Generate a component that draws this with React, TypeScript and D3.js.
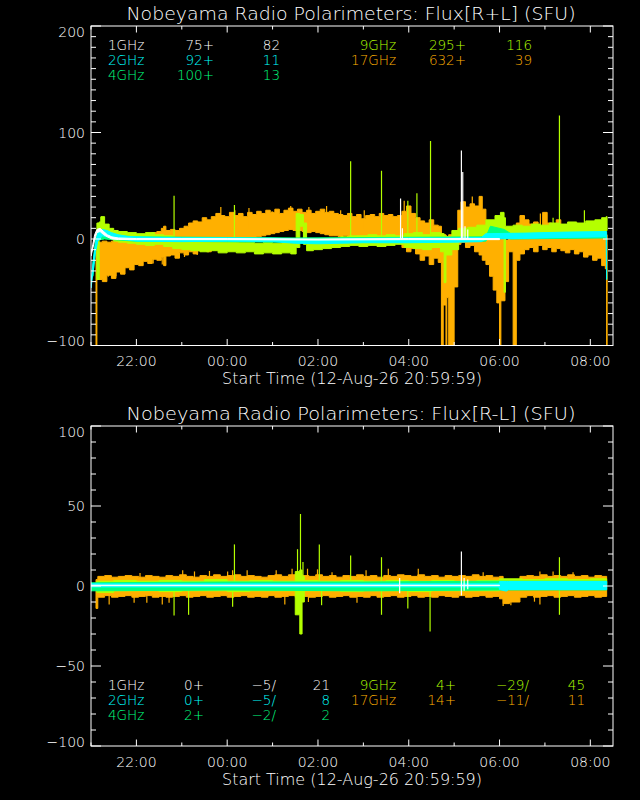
import { useEffect, useRef } from 'react'
import * as d3 from 'd3'

// time axis: hours after the start of the record
const START = new Date(2026, 7, 12, 20, 59, 59)
const SPAN_HOURS = 11.5

const COLORS: Record<string, string> = {
  '1GHz': '#ffffff',
  '2GHz': '#00ffff',
  '4GHz': '#00ff80',
  '9GHz': '#b4ff00',
  '17GHz': '#ffb000',
}

// ---------- Flux[R+L]  bands as [hour, low, high] ----------
const TOP_17GHZ: [number, number, number][] = [
  [0.11, -100, -3], [0.13, -38, -3], [0.25, -40, -2], [0.35, -34, -3], [0.45, -37, -2], [0.55, -31, -1],
  [0.65, -33, 0], [0.75, -27, 0], [0.85, -29, 1], [0.95, -24, 2], [1.05, -25, 3], [1.15, -21, 4],
  [1.25, -23, 5], [1.35, -19, 6], [1.45, -20, 7], [1.55, -17, 10], [1.6, -25, 12], [1.65, -16, 8],
  [1.75, -15, 9], [1.85, -18, 8], [1.95, -13, 10], [2.05, -15, 12], [2.15, -12, 15], [2.25, -14, 17],
  [2.35, -11, 16], [2.45, -10, 20], [2.55, -12, 18], [2.65, -9, 21], [2.75, -7, 24], [2.85, -8, 22],
  [2.95, -5, 21], [3.05, -4, 25], [3.15, -3, 22], [3.25, -2, 24], [3.35, -1, 21], [3.45, 0, 25],
  [3.55, 1, 23], [3.65, 2, 26], [3.75, 3, 24], [3.85, 4, 27], [3.95, 5, 25], [4.05, 6, 28],
  [4.15, 7, 24], [4.25, 8, 27], [4.35, 9, 29], [4.45, 8, 26], [4.55, 8, 28], [4.65, 7, 25],
  [4.75, 6, 27], [4.85, 7, 24], [4.95, 6, 26], [5.05, 5, 28], [5.15, 4, 25], [5.25, 3, 26],
  [5.35, 3, 24], [5.45, 2, 23], [5.55, 3, 22], [5.65, 2, 24], [5.75, 3, 21], [5.85, 2, 23],
  [5.95, 1, 19], [6.05, 2, 22], [6.15, 3, 23], [6.25, 1, 21], [6.35, 2, 24], [6.45, 2, 22],
  [6.55, 1, 23], [6.65, 0, 21], [6.75, -2, 22], [6.85, -8, 26], [6.95, -12, 31], [7.05, -9, 24],
  [7.15, -14, 20], [7.25, -20, 17], [7.35, -16, 15], [7.45, -24, 18], [7.55, -18, 13], [7.65, -22, 12],
  [7.72, -100, 5], [7.76, -62, 4], [7.82, -100, 3], [7.84, -55, 2], [7.88, -100, 4], [7.97, -100, 3],
  [8.0, -45, 6], [8.08, -5, 27], [8.15, -3, 35], [8.25, -8, 30], [8.35, -6, 33], [8.45, -12, 31],
  [8.55, -15, 40], [8.62, -20, 28], [8.7, -24, 15], [8.78, -35, 5], [8.86, -48, 3], [8.94, -60, 2],
  [9.0, -100, 1], [9.03, -58, 0], [9.12, -40, -1], [9.2, -12, 2], [9.3, -100, 5], [9.37, -20, 15],
  [9.45, -14, 22], [9.55, -10, 18], [9.65, -8, 14], [9.75, -12, 16], [9.85, -6, 12], [9.95, -10, 25],
  [10.05, -8, 15], [10.15, -12, 13], [10.25, -9, 18], [10.35, -11, 12], [10.45, -13, 11], [10.55, -10, 14],
  [10.65, -14, 10], [10.75, -12, 9], [10.85, -17, 8], [10.95, -15, 7], [11.05, -20, 6], [11.15, -18, 7],
  [11.25, -25, 5], [11.33, -28, 4], [11.36, -100, 4], [11.37, -100, 4],
]

const TOP_9GHZ: [number, number, number][] = [
  [0.13, -38, 15], [0.18, 0, 16], [0.22, 5, 21], [0.3, 2, 14], [0.4, 0, 10], [0.5, -2, 8],
  [0.6, -3, 7], [0.8, -4, 6], [1.0, -5, 5], [1.2, -6, 6], [1.4, -5, 4], [1.6, -7, 3],
  [1.8, -9, 1], [2.0, -10, 0], [2.2, -11, -1], [2.4, -12, -2], [2.6, -11, -3], [2.8, -13, -3],
  [3.0, -12, -2], [3.2, -13, -3], [3.4, -12, -3], [3.6, -14, -4], [3.8, -13, -3], [4.0, -14, -4],
  [4.2, -13, -3], [4.4, -14, -4], [4.52, -8, 24], [4.6, 12, 23], [4.68, -5, 15], [4.75, -11, -2],
  [4.9, -10, -3], [5.1, -9, -2], [5.3, -8, -1], [5.5, -7, 2], [5.7, -6, 3], [5.9, -7, 3],
  [6.1, -6, 4], [6.3, -7, 3], [6.5, -6, 4], [6.7, -5, 3], [6.9, -8, 5], [7.1, -9, 6],
  [7.3, -10, 4], [7.5, -8, 6], [7.7, -12, 5], [7.78, -41, 3], [7.82, -15, 2], [7.95, -10, 8],
  [8.1, -2, 10], [8.3, 0, 11], [8.5, -1, 13], [8.7, 1, 18], [8.9, 2, 22], [9.02, 3, 25],
  [9.1, -50, 20], [9.13, 1, 12], [9.3, 2, 13], [9.5, 3, 12], [9.7, 3, 14], [9.9, 4, 13],
  [10.1, 4, 15], [10.3, 5, 14], [10.5, 5, 16], [10.7, 6, 15], [10.9, 6, 17], [11.1, 7, 18],
  [11.25, 7, 20], [11.35, 8, 21], [11.37, 8, 21],
]

const TOP_4GHZ: [number, number, number][] = [
  [0.04, -35, -25], [0.1, -10, 0], [0.15, -1, 5], [0.3, 0, 5], [0.6, -1, 3], [1.0, -2, 2],
  [4.5, -3, 1], [8.7, -2, 2], [8.8, 3, 12], [9.1, 2, 9], [9.25, 0, 5], [11.35, 1, 6],
]

const TOP_2GHZ: [number, number, number][] = [
  [0.0, -46, -40], [0.05, -30, -20], [0.1, -12, -4], [0.15, -2, 6], [0.25, 3, 9], [0.35, 2, 8],
  [0.45, 1, 6], [0.6, 0, 4], [0.8, -1, 2.5], [1.0, -2, 2], [2.0, -2.5, 1.2], [3.0, -2, 1.2],
  [4.0, -2.5, 0.8], [4.5, -4, 0], [5.0, -4.5, -0.5], [5.5, -4, 0], [6.0, -3.5, 0.5], [7.0, -3.5, 1],
  [8.0, -3, 1], [8.6, -2.5, 1.5], [8.7, 0, 5], [9.5, 0.5, 5.5], [10.5, 1.5, 6.5], [11.35, 2, 7],
  [11.36, -38, 7],
]

const TOP_1GHZ: [number, number, number][] = [
  [0.0, -16, -14], [0.04, -9, -5], [0.08, -1, 4], [0.13, 6, 9], [0.2, 7, 10], [0.28, 4, 7],
  [0.36, 2, 4], [0.46, 0, 2], [0.6, -0.5, 1], [1.0, -0.6, 0.4], [3.0, -0.6, 0.4], [5.0, -1, 0],
  [7.0, -0.6, 0.4], [9.0, -0.6, 0.4],
]

// spikes as [hour, from, to]
const TOP_17GHZ_SPIKES: [number, number, number][] = [
  [0.38, -20, -35.5], [0.55, -20, -35], [1.37, -10, -23], [1.57, -10, -24], [2.06, -5, -17], [2.34, -5, -15],
  [2.86, 10, 30], [3.17, 10, 27], [3.48, 10, 29], [3.99, 10, 26], [4.4, 10, 31], [4.8, 10, 30],
  [5.19, 10, 31], [5.5, 10, 27], [6.02, 10, 27], [6.9, 10, 36], [8.4, 10, 40], [9.9, 0, 24],
]
const TOP_9GHZ_SPIKES: [number, number, number][] = [
  [0.22, 5, 21], [1.83, -5, 40.6], [3.16, -5, 32], [5.72, 0, 73], [6.4, 0, 64], [6.98, 0, 36],
  [7.18, 0, 43], [7.48, 0, 92], [10.18, 10, 20], [10.32, 10, 116], [10.87, 10, 27],
]
const TOP_1GHZ_SPIKES: [number, number, number][] = [
  [6.82, 0, 38], [6.86, 0, 10], [8.16, 0, 83], [8.19, 0, 63], [8.24, 0, 12], [8.3, 0, 9],
]

// ---------- Flux[R-L] ----------
const BOT_17GHZ: [number, number, number][] = [
  [0.11, -14, 4], [0.15, -7, 6], [0.3, -6, 6.5], [0.45, -7, 5.5], [0.6, -6.5, 6], [0.75, -6, 6.5],
  [0.9, -7, 6], [1.05, -6.5, 5.5], [1.2, -6, 6.5], [1.35, -7, 6], [1.5, -6.5, 5.5], [1.65, -7, 6.5],
  [1.8, -6.5, 6], [1.95, -6, 7], [2.1, -7, 6], [2.25, -6.5, 5.5], [2.4, -6, 6.5], [2.55, -7, 6],
  [2.7, -6.5, 7], [2.85, -6, 6], [3.0, -7, 6.5], [3.15, -6.5, 7], [3.3, -6, 6], [3.45, -7, 6.5],
  [3.6, -6.5, 6], [3.75, -7, 5.5], [3.9, -6, 6.5], [4.05, -7, 7], [4.2, -6.5, 6], [4.35, -6, 7],
  [4.5, -7, 7.5], [4.65, -6.5, 6.5], [4.8, -7, 6], [4.95, -6.5, 7], [5.1, -6, 6], [5.25, -7, 6.5],
  [5.4, -6.5, 5.5], [5.55, -6, 6.5], [5.7, -7, 6], [5.85, -6.5, 7], [6.0, -7, 6], [6.15, -6, 6.5],
  [6.3, -7, 5.5], [6.45, -6.5, 6.5], [6.6, -6, 6], [6.75, -7, 7], [6.9, -6.5, 6.5], [7.05, -6, 6],
  [7.2, -7, 7], [7.35, -6.5, 6], [7.5, -7, 6.5], [7.65, -6, 5.5], [7.8, -6.5, 6.5], [7.95, -7, 6],
  [8.1, -6, 6.5], [8.25, -7, 6], [8.4, -6.5, 7], [8.55, -6, 6], [8.7, -7, 6.5], [8.85, -6.5, 5.5],
  [9.0, -8, 6], [9.08, -11, -1], [9.22, -10, 2], [9.45, -7, 6], [9.6, -6, 6.5], [9.75, -7, 6],
  [9.9, -6.5, 7], [10.05, -6, 6], [10.2, -7, 6.5], [10.35, -6.5, 6], [10.5, -6, 7], [10.65, -7, 6],
  [10.8, -6.5, 6.5], [10.95, -6, 5.5], [11.1, -7, 6.5], [11.25, -6.5, 6], [11.36, -6.5, 6],
]

const BOT_9GHZ: [number, number, number][] = [
  [0.13, -4, 3], [0.5, -3, 3.5], [1.0, -3, 3], [1.5, -3.5, 3.5], [2.0, -3, 3], [2.5, -3, 4],
  [3.0, -3.5, 3], [3.5, -3, 3.5], [4.0, -3, 3], [4.5, -18, 9], [4.6, -30, 10], [4.65, -10, 6],
  [4.7, -3, 3.5], [5.0, -3, 3], [5.5, -3.5, 3.5], [6.0, -3, 3], [6.5, -3, 3.5], [7.0, -3.5, 3],
  [7.5, -3, 3.5], [8.0, -3, 3], [8.5, -3, 3.5], [9.0, 1, 4.5], [9.5, 1, 4], [10.0, 1, 4.5],
  [10.5, 1, 4], [11.0, 1, 4.5], [11.36, 1, 4.5],
]

const BOT_4GHZ: [number, number, number][] = [
  [0.0, -3, 2], [3.0, -2.5, 2.5], [6.0, -3, 2.5], [9.0, -2.5, 3], [11.36, -2.5, 3],
]
const BOT_2GHZ: [number, number, number][] = [
  [0.0, -0.6, 1.4], [8.99, -0.6, 1.4], [9.0, -2.2, 2.8], [9.15, -3.2, 2.8], [9.2, -2.2, 2.8], [11.36, -2.2, 2.8],
]
const BOT_1GHZ: [number, number, number][] = [
  [0.0, 0.2, 0.5], [9.0, 0.2, 0.5],
]

const BOT_17GHZ_SPIKES: [number, number, number][] = [
  [0.4, 0, -11.5], [0.95, 0, -10.4], [1.08, 0, 8.1], [1.23, 0, -10.4], [1.57, 0, -11.5], [1.72, 0, -10.4],
  [2.02, 0, 9.8], [2.28, 0, 9.1], [2.61, 0, 9.4], [3.01, 0, 9.1], [3.12, 0, 9.8], [3.44, 0, 9.8],
  [4.08, 0, 9.8], [4.27, 0, -11.5], [4.43, 0, 10.8], [4.77, 0, 10.8], [4.79, 0, -10], [4.99, 0, 10.4],
  [5.31, 0, 8.6], [5.86, 0, -10.4], [6.06, 0, 9.8], [6.55, 0, 10.8], [7.21, 0, 10.8], [8.64, 0, 8.6],
  [9.08, 0, -12.5], [9.25, 0, -12], [9.77, 0, -9.8], [9.89, 0, -11.5], [9.89, 0, 9.1], [10.18, 0, 9.1],
  [10.62, 0, 8.6],
]
const BOT_9GHZ_SPIKES: [number, number, number][] = [
  [1.83, 0, -18.5], [2.15, 0, -18], [3.12, 0, -13], [3.16, 0, 26], [4.55, 0, 23], [4.615, -29.6, 45],
  [4.67, 0, 15], [5.03, 0, 26], [5.08, 0, -12], [5.72, 0, 19], [6.4, -18, 18], [6.98, 0, -14],
  [7.47, 0, -28.5], [10.32, -18, 18],
]
const BOT_1GHZ_SPIKES: [number, number, number][] = [
  [6.8, -4.6, 5], [8.16, -6, 21.5], [8.22, -3, 5], [8.3, -2, 4],
]

// legend text
const TOP_LEGEND_LEFT = [
  ['1GHz', '75+', '82'],
  ['2GHz', '92+', '11'],
  ['4GHz', '100+', '13'],
]
const TOP_LEGEND_RIGHT = [
  ['9GHz', '295+', '116'],
  ['17GHz', '632+', '39'],
]
const BOT_LEGEND_LEFT = [
  ['1GHz', '0+', '−5/', '21'],
  ['2GHz', '0+', '−5/', '8'],
  ['4GHz', '2+', '−2/', '2'],
]
const BOT_LEGEND_RIGHT = [
  ['9GHz', '4+', '−29/', '45'],
  ['17GHz', '14+', '−11/', '11'],
]

const FONT = '"DejaVu Sans", sans-serif'
const LEFT = 91
const RIGHT = 613

type Band = [number, number, number][]
interface Series { key: string; band: Band; step: boolean; spikes?: Band }
interface PanelCfg {
  top: number
  bottom: number
  domain: [number, number]
  majorCount: number
  minorCount: number
  title: string
  series: Series[]
  legendY: number
  legendLeft: string[][]
  legendRight: string[][]
  leftCols: number[]
  rightCols: number[]
}

const toDate = (h: number) => new Date(START.getTime() + h * 3600e3)

function drawPanel(svg: d3.Selection<SVGSVGElement, unknown, null, undefined>, cfg: PanelCfg, id: string) {
  const x = d3.scaleTime().domain([START, toDate(SPAN_HOURS)]).range([LEFT, RIGHT])
  const y = d3.scaleLinear().domain(cfg.domain).range([cfg.bottom, cfg.top])

  svg.append('clipPath').attr('id', id)
    .append('rect')
    .attr('x', LEFT).attr('y', cfg.top)
    .attr('width', RIGHT - LEFT).attr('height', cfg.bottom - cfg.top)

  const g = svg.append('g').attr('clip-path', `url(#${id})`)

  cfg.series.forEach(s => {
    const area = d3.area<[number, number, number]>()
      .x(d => x(toDate(d[0])))
      .y0(d => y(d[1]))
      .y1(d => y(d[2]))
      .curve(s.step ? d3.curveStepAfter : d3.curveLinear)
    g.append('path')
      .attr('d', area(s.band))
      .attr('fill', COLORS[s.key])
      .attr('stroke', COLORS[s.key])
      .attr('stroke-width', 1)
    ;(s.spikes || []).forEach(d => {
      g.append('line')
        .attr('x1', x(toDate(d[0]))).attr('x2', x(toDate(d[0])))
        .attr('y1', y(d[1])).attr('y2', y(d[2]))
        .attr('stroke', COLORS[s.key]).attr('stroke-width', 1.2)
    })
  })

  // frame
  svg.append('rect')
    .attr('x', LEFT).attr('y', cfg.top)
    .attr('width', RIGHT - LEFT).attr('height', cfg.bottom - cfg.top)
    .attr('fill', 'none').attr('stroke', '#fff').attr('stroke-width', 1)

  const axes = svg.append('g').attr('stroke', '#fff').attr('stroke-width', 1)

  // y ticks, inward on both sides
  const major = y.ticks(cfg.majorCount)
  y.ticks(cfg.minorCount).forEach(v => {
    const len = major.includes(v) ? 10 : 5
    axes.append('line').attr('x1', LEFT).attr('x2', LEFT + len).attr('y1', y(v)).attr('y2', y(v))
    axes.append('line').attr('x1', RIGHT).attr('x2', RIGHT - len).attr('y1', y(v)).attr('y2', y(v))
  })
  major.forEach(v => {
    const base = Math.min(Math.max(y(v) + 5, cfg.top + 11), cfg.bottom + 0.5)
    svg.append('text')
      .attr('x', 85).attr('y', base)
      .attr('text-anchor', 'end')
      .attr('fill', '#fff')
      .style('font', `200 14px ${FONT}`)
      .text(d3.format('d')(v))
  })

  // x ticks, every hour, labels every two
  x.ticks(d3.timeHour.every(1)!).forEach(t => {
    const isMajor = t.getHours() % 2 === 0
    const len = isMajor ? 6.5 : 3.5
    const px = x(t)
    axes.append('line').attr('x1', px).attr('x2', px).attr('y1', cfg.bottom).attr('y2', cfg.bottom - len)
    axes.append('line').attr('x1', px).attr('x2', px).attr('y1', cfg.top).attr('y2', cfg.top + len)
    if (isMajor) {
      svg.append('text')
        .attr('x', px).attr('y', cfg.bottom + 20.5)
        .attr('text-anchor', 'middle')
        .attr('fill', '#fff')
        .style('font', `200 14px ${FONT}`)
        .text(d3.timeFormat('%H:%M')(t))
    }
  })

  svg.append('text')
    .attr('x', 352).attr('y', cfg.bottom + 38.5)
    .attr('text-anchor', 'middle')
    .attr('fill', '#fff')
    .attr('textLength', 260).attr('lengthAdjust', 'spacingAndGlyphs')
    .style('font', `200 15px ${FONT}`)
    .text('Start Time (12-Aug-26 20:59:59)')

  svg.append('text')
    .attr('x', 351).attr('y', cfg.top - 6.5)
    .attr('text-anchor', 'middle')
    .attr('fill', '#fff')
    .attr('textLength', 449).attr('lengthAdjust', 'spacingAndGlyphs')
    .style('font', `200 18px ${FONT}`)
    .text(cfg.title)

  // legend blocks
  const legend = (rows: string[][], cols: number[], keys: string[]) => {
    rows.forEach((row, i) => {
      row.forEach((txt, j) => {
        const anchor = cols[j] < 0 ? 'start' : 'end'
        svg.append('text')
          .attr('x', Math.abs(cols[j]))
          .attr('y', cfg.legendY + i * 15)
          .attr('text-anchor', anchor)
          .attr('fill', COLORS[keys[i]])
          .style('font', `200 13.5px ${FONT}`)
          .text(txt)
      })
    })
  }
  legend(cfg.legendLeft, cfg.leftCols, ['1GHz', '2GHz', '4GHz'])
  legend(cfg.legendRight, cfg.rightCols, ['9GHz', '17GHz'])
}

export default function App() {
  const svgRef = useRef<SVGSVGElement>(null)

  useEffect(() => {
    if (!svgRef.current) return
    document.body.style.margin = '0'
    document.body.style.background = '#000'
    const svg = d3.select(svgRef.current)
    svg.selectAll('*').remove()
    svg.append('rect').attr('width', 640).attr('height', 800).attr('fill', '#000')

    drawPanel(svg, {
      top: 26,
      bottom: 345.5,
      domain: [-100, 200],
      majorCount: 3,
      minorCount: 30,
      title: 'Nobeyama Radio Polarimeters: Flux[R+L] (SFU)',
      series: [
        { key: '17GHz', band: TOP_17GHZ, step: true, spikes: TOP_17GHZ_SPIKES },
        { key: '9GHz', band: TOP_9GHZ, step: true, spikes: TOP_9GHZ_SPIKES },
        { key: '4GHz', band: TOP_4GHZ, step: false },
        { key: '2GHz', band: TOP_2GHZ, step: false },
        { key: '1GHz', band: TOP_1GHZ, step: false, spikes: TOP_1GHZ_SPIKES },
      ],
      legendY: 50,
      legendLeft: TOP_LEGEND_LEFT,
      legendRight: TOP_LEGEND_RIGHT,
      leftCols: [-108, 214, 280],
      rightCols: [396, 466, 532],
    }, 'clip-top')

    drawPanel(svg, {
      top: 426,
      bottom: 746,
      domain: [-100, 100],
      majorCount: 4,
      minorCount: 20,
      title: 'Nobeyama Radio Polarimeters: Flux[R-L] (SFU)',
      series: [
        { key: '17GHz', band: BOT_17GHZ, step: true, spikes: BOT_17GHZ_SPIKES },
        { key: '9GHz', band: BOT_9GHZ, step: true, spikes: BOT_9GHZ_SPIKES },
        { key: '4GHz', band: BOT_4GHZ, step: false },
        { key: '2GHz', band: BOT_2GHZ, step: false },
        { key: '1GHz', band: BOT_1GHZ, step: false, spikes: BOT_1GHZ_SPIKES },
      ],
      legendY: 689.5,
      legendLeft: BOT_LEGEND_LEFT,
      legendRight: BOT_LEGEND_RIGHT,
      leftCols: [-108, 204, 276, 330],
      rightCols: [396, 456, 529, 585],
    }, 'clip-bot')
  }, [])

  return <svg ref={svgRef} width={640} height={800} style={{ display: 'block' }} />
}
